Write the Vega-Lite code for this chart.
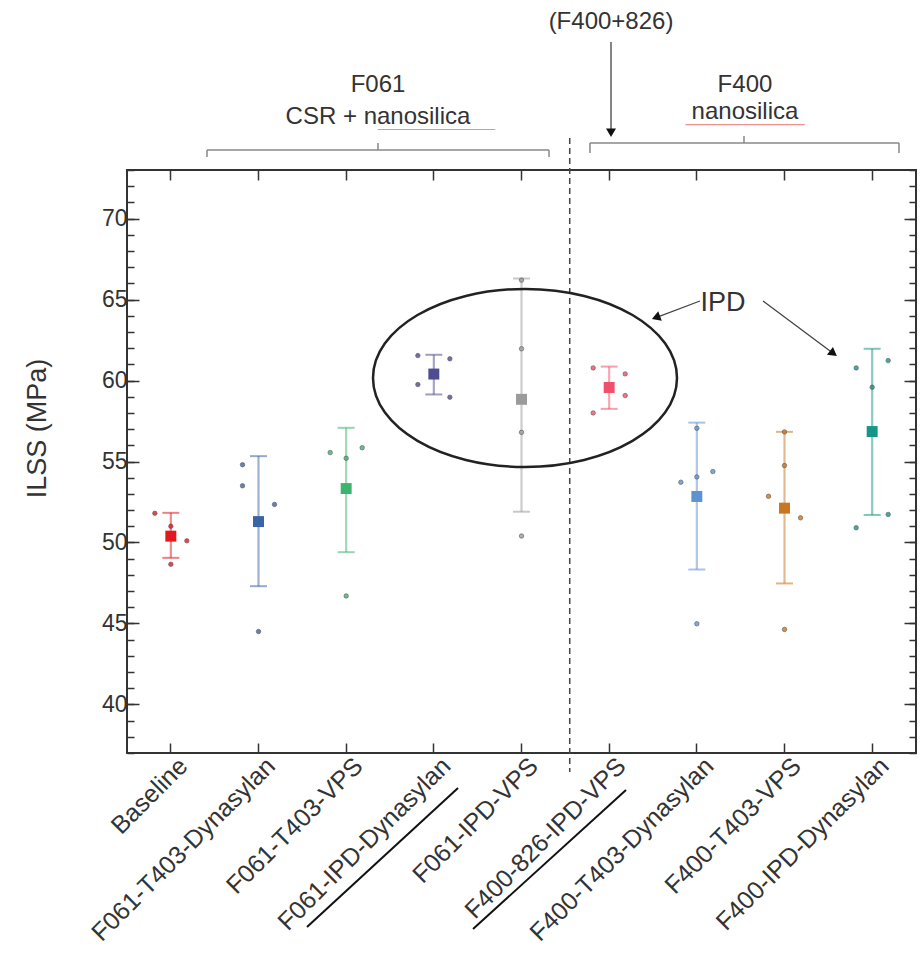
{
  "$schema": "https://vega.github.io/schema/vega-lite/v6.json",
  "width": 789,
  "height": 583,
  "autosize": {"type": "none"},
  "padding": {"left": 127, "top": 170, "right": 7, "bottom": 201},
  "background": "white",
  "config": {
    "view": {"stroke": "#333", "strokeWidth": 2},
    "font": "Liberation Sans",
    "axis": {"grid": false, "domain": false, "tickColor": "#333", "tickWidth": 1.5, "labelColor": "#333", "titleColor": "#333", "titleFontWeight": "normal"}
  },
  "datasets": {
    "summary": [
      {"group": "Baseline", "mean": 50.39, "lo": 49.05, "hi": 51.83},
      {"group": "F061-T403-Dynasylan", "mean": 51.29, "lo": 47.3, "hi": 55.33},
      {"group": "F061-T403-VPS", "mean": 53.33, "lo": 49.4, "hi": 57.08},
      {"group": "F061-IPD-Dynasylan", "mean": 60.4, "lo": 59.14, "hi": 61.59},
      {"group": "F061-IPD-VPS", "mean": 58.84, "lo": 51.9, "hi": 66.3},
      {"group": "F400-826-IPD-VPS", "mean": 59.57, "lo": 58.25, "hi": 60.86},
      {"group": "F400-T403-Dynasylan", "mean": 52.84, "lo": 48.33, "hi": 57.4},
      {"group": "F400-T403-VPS", "mean": 52.12, "lo": 47.47, "hi": 56.83},
      {"group": "F400-IPD-Dynasylan", "mean": 56.85, "lo": 51.7, "hi": 61.96}
    ],
    "specimens": [
      {"group": "Baseline", "side": "left", "ilss": 51.8},
      {"group": "Baseline", "side": "center", "ilss": 51.0},
      {"group": "Baseline", "side": "right", "ilss": 50.1},
      {"group": "Baseline", "side": "center", "ilss": 48.65},
      {"group": "F061-T403-Dynasylan", "side": "left", "ilss": 54.8},
      {"group": "F061-T403-Dynasylan", "side": "left", "ilss": 53.5},
      {"group": "F061-T403-Dynasylan", "side": "right", "ilss": 52.35},
      {"group": "F061-T403-Dynasylan", "side": "center", "ilss": 44.5},
      {"group": "F061-T403-VPS", "side": "left", "ilss": 55.55},
      {"group": "F061-T403-VPS", "side": "right", "ilss": 55.85},
      {"group": "F061-T403-VPS", "side": "center", "ilss": 55.2},
      {"group": "F061-T403-VPS", "side": "center", "ilss": 46.7},
      {"group": "F061-IPD-Dynasylan", "side": "left", "ilss": 61.54},
      {"group": "F061-IPD-Dynasylan", "side": "right", "ilss": 61.34},
      {"group": "F061-IPD-Dynasylan", "side": "left", "ilss": 59.75},
      {"group": "F061-IPD-Dynasylan", "side": "right", "ilss": 58.97},
      {"group": "F061-IPD-VPS", "side": "center", "ilss": 66.2},
      {"group": "F061-IPD-VPS", "side": "center", "ilss": 61.96},
      {"group": "F061-IPD-VPS", "side": "center", "ilss": 56.8},
      {"group": "F061-IPD-VPS", "side": "center", "ilss": 50.4},
      {"group": "F400-826-IPD-VPS", "side": "left", "ilss": 60.78},
      {"group": "F400-826-IPD-VPS", "side": "right", "ilss": 60.41},
      {"group": "F400-826-IPD-VPS", "side": "right", "ilss": 59.07},
      {"group": "F400-826-IPD-VPS", "side": "left", "ilss": 58.0},
      {"group": "F400-T403-Dynasylan", "side": "center", "ilss": 57.05},
      {"group": "F400-T403-Dynasylan", "side": "left", "ilss": 53.72},
      {"group": "F400-T403-Dynasylan", "side": "center", "ilss": 54.05},
      {"group": "F400-T403-Dynasylan", "side": "right", "ilss": 54.38},
      {"group": "F400-T403-Dynasylan", "side": "center", "ilss": 44.98},
      {"group": "F400-T403-VPS", "side": "center", "ilss": 56.83},
      {"group": "F400-T403-VPS", "side": "center", "ilss": 54.75},
      {"group": "F400-T403-VPS", "side": "left", "ilss": 52.85},
      {"group": "F400-T403-VPS", "side": "right", "ilss": 51.52},
      {"group": "F400-T403-VPS", "side": "center", "ilss": 44.63},
      {"group": "F400-IPD-Dynasylan", "side": "right", "ilss": 61.23},
      {"group": "F400-IPD-Dynasylan", "side": "left", "ilss": 60.78},
      {"group": "F400-IPD-Dynasylan", "side": "center", "ilss": 59.59},
      {"group": "F400-IPD-Dynasylan", "side": "right", "ilss": 51.73},
      {"group": "F400-IPD-Dynasylan", "side": "left", "ilss": 50.91}
    ],
    "segments": [
      {"part": "bracket", "x": 0.9125, "y": 74.235, "x2": 4.8137, "y2": 74.235},
      {"part": "bracket", "x": 0.9125, "y": 74.235, "x2": 0.9125, "y2": 73.8},
      {"part": "bracket", "x": 4.8137, "y": 74.235, "x2": 4.8137, "y2": 73.8},
      {"part": "bracket", "x": 2.863, "y": 74.235, "x2": 2.863, "y2": 74.667},
      {"part": "bracket", "x": 5.281, "y": 74.667, "x2": 8.806, "y2": 74.667},
      {"part": "bracket", "x": 5.281, "y": 74.667, "x2": 5.281, "y2": 74.05},
      {"part": "bracket", "x": 8.806, "y": 74.667, "x2": 8.806, "y2": 74.05},
      {"part": "bracket", "x": 7.038, "y": 74.667, "x2": 7.038, "y2": 75.1},
      {"part": "divider", "x": 5.05, "y": 74.98, "x2": 5.05, "y2": 35.82},
      {"part": "arrow", "x": 5.521, "y": 80.9, "x2": 5.521, "y2": 75.4},
      {"part": "arrow", "x": 6.536, "y": 64.91, "x2": 6.034, "y2": 63.89},
      {"part": "arrow", "x": 7.255, "y": 64.91, "x2": 8.058, "y2": 61.67},
      {"part": "underline", "x": 2.053, "y": 26.25, "x2": 3.776, "y2": 34.84},
      {"part": "underline", "x": 3.947, "y": 26.13, "x2": 5.692, "y2": 34.71},
      {"part": "spell", "x": 2.86, "y": 75.5, "x2": 4.2, "y2": 75.5},
      {"part": "spell", "x": 6.37, "y": 75.8, "x2": 7.73, "y2": 75.8}
    ],
    "labels": [
      {"text": "(F400+826)", "x": 5.521, "y": 82.14},
      {"text": "F061", "x": 2.863, "y": 78.25},
      {"text": "CSR + nanosilica", "x": 2.863, "y": 76.27},
      {"text": "F400", "x": 7.049, "y": 78.25},
      {"text": "nanosilica", "x": 7.049, "y": 76.58}
    ],
    "callouts": [
      {"text": "IPD", "x": 6.798, "y": 64.79}
    ],
    "marks": [
      {"what": "ellipse", "x": 4.54, "y": 60.16},
      {"what": "head-down", "x": 5.521, "y": 75.3},
      {"what": "head-1", "x": 6.034, "y": 63.89},
      {"what": "head-2", "x": 8.058, "y": 61.67}
    ]
  },
  "layer": [
    {
      "data": {"name": "summary"},
      "mark": {"type": "rule", "strokeWidth": 2.2, "opacity": 0.5},
      "encoding": {
        "x": {"field": "group", "type": "nominal", "title": null,
          "scale": {"type": "band", "domain": ["Baseline", "F061-T403-Dynasylan", "F061-T403-VPS", "F061-IPD-Dynasylan", "F061-IPD-VPS", "F400-826-IPD-VPS", "F400-T403-Dynasylan", "F400-T403-VPS", "F400-IPD-Dynasylan"], "paddingInner": 0, "paddingOuter": 0},
          "axis": {"orient": "bottom", "labelAngle": -45, "labelFontSize": 25, "tickSize": -10, "labelPadding": 10, "labelOffset": 4, "labelAlign": "right", "labelBaseline": "top", "labelLimit": 400}},
        "y": {"field": "lo", "type": "quantitative", "title": "ILSS (MPa)",
          "scale": {"domain": [37, 73], "nice": false, "zero": false},
          "axis": {"orient": "left", "values": [40, 45, 50, 55, 60, 65, 70], "tickSize": -12, "labelFontSize": 23, "labelPadding": 12, "titleFontSize": 27, "titleX": -90, "titleY": 258, "titleBaseline": "middle", "titleAngle": 270}},
        "y2": {"field": "hi"},
        "color": {"field": "group", "type": "nominal", "legend": null,
          "scale": {"domain": ["Baseline", "F061-T403-Dynasylan", "F061-T403-VPS", "F061-IPD-Dynasylan", "F061-IPD-VPS", "F400-826-IPD-VPS", "F400-T403-Dynasylan", "F400-T403-VPS", "F400-IPD-Dynasylan"], "range": ["#e3171e", "#3a64a6", "#3cb46e", "#4f4c8f", "#9b9b9b", "#f0506b", "#5f92d1", "#c8761f", "#16958a"]}}
      }
    },
    {
      "data": {"name": "summary"},
      "mark": {"type": "tick", "thickness": 2, "size": 17, "opacity": 0.55},
      "encoding": {
        "x": {"field": "group", "type": "nominal", "title": null,
          "scale": {"type": "band", "domain": ["Baseline", "F061-T403-Dynasylan", "F061-T403-VPS", "F061-IPD-Dynasylan", "F061-IPD-VPS", "F400-826-IPD-VPS", "F400-T403-Dynasylan", "F400-T403-VPS", "F400-IPD-Dynasylan"], "paddingInner": 0, "paddingOuter": 0},
          "axis": {"orient": "top", "labels": false, "tickSize": -10}},
        "y": {"field": "lo", "type": "quantitative", "title": null,
          "scale": {"domain": [37, 73], "nice": false, "zero": false},
          "axis": {"orient": "left", "values": [37, 38, 39, 40, 41, 42, 43, 44, 45, 46, 47, 48, 49, 50, 51, 52, 53, 54, 55, 56, 57, 58, 59, 60, 61, 62, 63, 64, 65, 66, 67, 68, 69, 70, 71, 72, 73], "labels": false, "tickSize": -7}},
        "color": {"field": "group", "type": "nominal", "legend": null}
      }
    },
    {
      "data": {"name": "summary"},
      "mark": {"type": "tick", "thickness": 2, "size": 17, "opacity": 0.55},
      "encoding": {
        "x": {"field": "group", "type": "nominal", "title": null, "axis": null,
          "scale": {"type": "band", "domain": ["Baseline", "F061-T403-Dynasylan", "F061-T403-VPS", "F061-IPD-Dynasylan", "F061-IPD-VPS", "F400-826-IPD-VPS", "F400-T403-Dynasylan", "F400-T403-VPS", "F400-IPD-Dynasylan"], "paddingInner": 0, "paddingOuter": 0}},
        "y": {"field": "hi", "type": "quantitative", "title": null,
          "scale": {"domain": [37, 73], "nice": false, "zero": false},
          "axis": {"orient": "right", "values": [40, 45, 50, 55, 60, 65, 70], "labels": false, "tickSize": -12}},
        "color": {"field": "group", "type": "nominal", "legend": null}
      }
    },
    {
      "data": {"name": "specimens"},
      "mark": {"type": "point", "shape": "circle", "filled": true, "size": 20, "opacity": 0.8, "stroke": "#333", "strokeWidth": 0.6},
      "encoding": {
        "x": {"field": "group", "type": "nominal", "title": null, "axis": null,
          "scale": {"type": "band", "domain": ["Baseline", "F061-T403-Dynasylan", "F061-T403-VPS", "F061-IPD-Dynasylan", "F061-IPD-VPS", "F400-826-IPD-VPS", "F400-T403-Dynasylan", "F400-T403-VPS", "F400-IPD-Dynasylan"], "paddingInner": 0, "paddingOuter": 0}},
        "xOffset": {"field": "side", "type": "nominal",
          "scale": {"type": "band", "domain": ["left", "center", "right"], "range": [19.85, 67.85], "paddingInner": 0, "paddingOuter": 0}},
        "y": {"field": "ilss", "type": "quantitative", "title": null,
          "scale": {"domain": [37, 73], "nice": false, "zero": false},
          "axis": {"orient": "right", "values": [37, 38, 39, 40, 41, 42, 43, 44, 45, 46, 47, 48, 49, 50, 51, 52, 53, 54, 55, 56, 57, 58, 59, 60, 61, 62, 63, 64, 65, 66, 67, 68, 69, 70, 71, 72, 73], "labels": false, "tickSize": -7}},
        "color": {"field": "group", "type": "nominal", "legend": null}
      }
    },
    {
      "data": {"name": "summary"},
      "mark": {"type": "point", "shape": "square", "filled": true, "size": 120, "opacity": 1},
      "encoding": {
        "x": {"field": "group", "type": "nominal", "title": null, "axis": null,
          "scale": {"type": "band", "domain": ["Baseline", "F061-T403-Dynasylan", "F061-T403-VPS", "F061-IPD-Dynasylan", "F061-IPD-VPS", "F400-826-IPD-VPS", "F400-T403-Dynasylan", "F400-T403-VPS", "F400-IPD-Dynasylan"], "paddingInner": 0, "paddingOuter": 0}},
        "y": {"field": "mean", "type": "quantitative", "title": null, "axis": null,
          "scale": {"domain": [37, 73], "nice": false, "zero": false}},
        "color": {"field": "group", "type": "nominal", "legend": null}
      }
    },
    {
      "data": {"name": "segments"},
      "transform": [{"filter": "datum.part === 'bracket'"}],
      "mark": {"type": "rule", "color": "#888", "strokeWidth": 1.5},
      "encoding": {
        "x": {"field": "x", "type": "quantitative", "axis": null, "scale": {"domain": [0, 9], "nice": false, "zero": false}},
        "x2": {"field": "x2"},
        "y": {"field": "y", "type": "quantitative", "axis": null, "scale": {"domain": [37, 73], "nice": false, "zero": false}},
        "y2": {"field": "y2"}
      }
    },
    {
      "data": {"name": "segments"},
      "transform": [{"filter": "datum.part === 'divider'"}],
      "mark": {"type": "rule", "color": "#444", "strokeWidth": 1.5, "strokeDash": [6, 4]},
      "encoding": {
        "x": {"field": "x", "type": "quantitative", "axis": null, "scale": {"domain": [0, 9], "nice": false, "zero": false}},
        "x2": {"field": "x2"},
        "y": {"field": "y", "type": "quantitative", "axis": null, "scale": {"domain": [37, 73], "nice": false, "zero": false}},
        "y2": {"field": "y2"}
      }
    },
    {
      "data": {"name": "segments"},
      "transform": [{"filter": "datum.part === 'arrow'"}],
      "mark": {"type": "rule", "color": "#444", "strokeWidth": 1.3},
      "encoding": {
        "x": {"field": "x", "type": "quantitative", "axis": null, "scale": {"domain": [0, 9], "nice": false, "zero": false}},
        "x2": {"field": "x2"},
        "y": {"field": "y", "type": "quantitative", "axis": null, "scale": {"domain": [37, 73], "nice": false, "zero": false}},
        "y2": {"field": "y2"}
      }
    },
    {
      "data": {"name": "segments"},
      "transform": [{"filter": "datum.part === 'underline'"}],
      "mark": {"type": "rule", "color": "#111", "strokeWidth": 2},
      "encoding": {
        "x": {"field": "x", "type": "quantitative", "axis": null, "scale": {"domain": [0, 9], "nice": false, "zero": false}},
        "x2": {"field": "x2"},
        "y": {"field": "y", "type": "quantitative", "axis": null, "scale": {"domain": [37, 73], "nice": false, "zero": false}},
        "y2": {"field": "y2"}
      }
    },
    {
      "data": {"name": "segments"},
      "transform": [{"filter": "datum.part === 'spell'"}],
      "mark": {"type": "rule", "color": "#ec8f8f", "strokeWidth": 1.2},
      "encoding": {
        "x": {"field": "x", "type": "quantitative", "axis": null, "scale": {"domain": [0, 9], "nice": false, "zero": false}},
        "x2": {"field": "x2"},
        "y": {"field": "y", "type": "quantitative", "axis": null, "scale": {"domain": [37, 73], "nice": false, "zero": false}},
        "y2": {"field": "y2"}
      }
    },
    {
      "data": {"name": "marks"},
      "transform": [{"filter": "datum.what === 'ellipse'"}],
      "mark": {"type": "point", "shape": "M-1,0A1,0.5855,0,1,1,1,0A1,0.5855,0,1,1,-1,0Z", "size": 92416, "filled": false, "stroke": "#222", "strokeWidth": 2.5, "opacity": 1},
      "encoding": {
        "x": {"field": "x", "type": "quantitative", "axis": null, "scale": {"domain": [0, 9], "nice": false, "zero": false}},
        "y": {"field": "y", "type": "quantitative", "axis": null, "scale": {"domain": [37, 73], "nice": false, "zero": false}}
      }
    },
    {
      "data": {"name": "marks"},
      "transform": [{"filter": "datum.what === 'head-down'"}],
      "mark": {"type": "point", "shape": "triangle-down", "size": 100, "filled": true, "color": "#111", "opacity": 1},
      "encoding": {
        "x": {"field": "x", "type": "quantitative", "axis": null, "scale": {"domain": [0, 9], "nice": false, "zero": false}},
        "y": {"field": "y", "type": "quantitative", "axis": null, "scale": {"domain": [37, 73], "nice": false, "zero": false}}
      }
    },
    {
      "data": {"name": "marks"},
      "transform": [{"filter": "datum.what === 'head-1'"}],
      "mark": {"type": "point", "shape": "triangle-up", "size": 100, "filled": true, "color": "#111", "opacity": 1, "angle": 249},
      "encoding": {
        "x": {"field": "x", "type": "quantitative", "axis": null, "scale": {"domain": [0, 9], "nice": false, "zero": false}},
        "y": {"field": "y", "type": "quantitative", "axis": null, "scale": {"domain": [37, 73], "nice": false, "zero": false}}
      }
    },
    {
      "data": {"name": "marks"},
      "transform": [{"filter": "datum.what === 'head-2'"}],
      "mark": {"type": "point", "shape": "triangle-up", "size": 100, "filled": true, "color": "#111", "opacity": 1, "angle": 127},
      "encoding": {
        "x": {"field": "x", "type": "quantitative", "axis": null, "scale": {"domain": [0, 9], "nice": false, "zero": false}},
        "y": {"field": "y", "type": "quantitative", "axis": null, "scale": {"domain": [37, 73], "nice": false, "zero": false}}
      }
    },
    {
      "data": {"name": "labels"},
      "mark": {"type": "text", "fontSize": 24, "color": "#333", "align": "center", "baseline": "middle"},
      "encoding": {
        "x": {"field": "x", "type": "quantitative", "axis": null, "scale": {"domain": [0, 9], "nice": false, "zero": false}},
        "y": {"field": "y", "type": "quantitative", "axis": null, "scale": {"domain": [37, 73], "nice": false, "zero": false}},
        "text": {"field": "text"}
      }
    },
    {
      "data": {"name": "callouts"},
      "mark": {"type": "text", "fontSize": 27, "color": "#333", "align": "center", "baseline": "middle"},
      "encoding": {
        "x": {"field": "x", "type": "quantitative", "axis": null, "scale": {"domain": [0, 9], "nice": false, "zero": false}},
        "y": {"field": "y", "type": "quantitative", "axis": null, "scale": {"domain": [37, 73], "nice": false, "zero": false}},
        "text": {"field": "text"}
      }
    }
  ],
  "resolve": {"scale": {"x": "independent"}, "axis": {"x": "independent", "y": "independent"}}
}
